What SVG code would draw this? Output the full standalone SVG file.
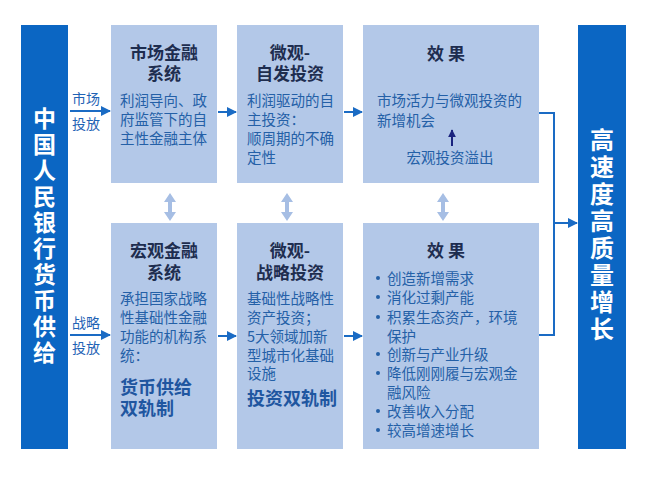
<svg xmlns="http://www.w3.org/2000/svg" width="650" height="485" viewBox="0 0 650 485">
<style>
text{font-family:"Noto Sans CJK SC","Noto Sans",sans-serif}
.bar{fill:#0b66c3}
.box{fill:#b3c8e8}
.vt{fill:#fff;font-weight:700;writing-mode:vertical-rl;text-orientation:upright}
.tt{fill:#1e2d4f;font-size:17px;font-weight:700;text-anchor:middle}
.bd{fill:#2460a7;font-size:14.5px}
.big{fill:#1f56a0;font-size:18px;font-weight:600}
.lbl{fill:#1f63b5;font-size:14px}
.ln{stroke:#1a6bc4;stroke-width:2;fill:none}
.dbl{fill:#a6bee4}
</style>
<defs>
<marker id="ah" viewBox="0 0 10 10" refX="9" refY="5" markerWidth="5" markerHeight="5" orient="auto" markerUnits="strokeWidth">
<path d="M0,0 L10,5 L0,10 z" fill="#1a6bc4"/>
</marker>
<marker id="ahn" viewBox="0 0 10 10" refX="9" refY="5" markerWidth="4" markerHeight="5" orient="auto" markerUnits="strokeWidth">
<path d="M0,0 L10,5 L0,10 z" fill="#1a237e"/>
</marker>
<path id="dbla" d="M0,0 L6,9 L2,9 L2,19 L6,19 L0,28 L-6,19 L-2,19 L-2,9 L-6,9 z"/>
</defs>

<g id="pboc">
<rect class="bar" x="21" y="25" width="47" height="424"/>
<text class="vt" x="44.5" y="106.5" style="font-size:23px;letter-spacing:3px">中国人民银行货币供给</text>
</g>

<g id="growth">
<rect class="bar" x="578" y="25" width="48" height="424"/>
<text class="vt" x="602" y="128" style="font-size:24px;letter-spacing:3px">高速度高质量增长</text>
</g>

<g id="market-finance">
<rect class="box" x="111" y="25" width="106" height="158"/>
<text class="tt" x="164" y="58.5">市场金融</text>
<text class="tt" x="164" y="79.5">系统</text>
<text class="bd"><tspan x="120" y="105.5">利润导向、政</tspan><tspan x="120" y="124.5">府监管下的自</tspan><tspan x="120" y="143.5">主性金融主体</tspan></text>
</g>

<g id="micro-spontaneous">
<rect class="box" x="237" y="25" width="106" height="158"/>
<text class="tt" x="290" y="58.5">微观-</text>
<text class="tt" x="290" y="79.5">自发投资</text>
<text class="bd"><tspan x="247" y="105.5">利润驱动的自</tspan><tspan x="247" y="124.5">主投资：</tspan><tspan x="247" y="143.5">顺周期的不确</tspan><tspan x="247" y="162.5">定性</tspan></text>
</g>

<g id="effect-top">
<rect class="box" x="363" y="25" width="176" height="158"/>
<text class="tt" x="446" y="59.5" xml:space="preserve">效 果</text>
<text class="bd"><tspan x="377" y="105.5">市场活力与微观投资的</tspan><tspan x="377" y="125.5">新增机会</tspan></text>
<line x1="452" y1="146" x2="452" y2="130" stroke="#1a237e" stroke-width="2" marker-end="url(#ahn)"/>
<text class="bd" x="450" y="162.5" text-anchor="middle">宏观投资溢出</text>
</g>

<g id="macro-finance">
<rect class="box" x="111" y="223" width="106" height="226"/>
<text class="tt" x="164" y="256.5">宏观金融</text>
<text class="tt" x="164" y="278.5">系统</text>
<text class="bd"><tspan x="120" y="303.5">承担国家战略</tspan><tspan x="120" y="322.5">性基础性金融</tspan><tspan x="120" y="341.5">功能的机构系</tspan><tspan x="120" y="360.5">统：</tspan></text>
<text class="big"><tspan x="120" y="394">货币供给</tspan><tspan x="120" y="415">双轨制</tspan></text>
</g>

<g id="micro-strategic">
<rect class="box" x="237" y="223" width="106" height="226"/>
<text class="tt" x="290" y="256.5">微观-</text>
<text class="tt" x="290" y="278.5">战略投资</text>
<text class="bd"><tspan x="247" y="303.5">基础性战略性</tspan><tspan x="247" y="322.5">资产投资；</tspan><tspan x="247" y="341.5">5大领域加新</tspan><tspan x="247" y="360.5">型城市化基础</tspan><tspan x="247" y="378.5">设施</tspan></text>
<text class="big" x="247" y="405" style="font-weight:700">投资双轨制</text>
</g>

<g id="effect-bottom">
<rect class="box" x="363" y="223" width="176" height="226"/>
<text class="tt" x="446" y="256.5" xml:space="preserve">效 果</text>
<g fill="#2460a7"><circle cx="378" cy="278" r="2"/><circle cx="378" cy="297" r="2"/><circle cx="378" cy="317" r="2"/><circle cx="378" cy="354" r="2"/><circle cx="378" cy="373" r="2"/><circle cx="378" cy="411" r="2"/><circle cx="378" cy="430" r="2"/></g>
<text class="bd"><tspan x="387" y="283.5">创造新增需求</tspan><tspan x="387" y="302.5">消化过剩产能</tspan><tspan x="387" y="322.5">积累生态资产，环境</tspan><tspan x="387" y="341.5">保护</tspan><tspan x="387" y="359.5">创新与产业升级</tspan><tspan x="387" y="378.5">降低刚刚履与宏观金</tspan><tspan x="387" y="397.5">融风险</tspan><tspan x="387" y="416.5">改善收入分配</tspan><tspan x="387" y="435.5">较高增速增长</tspan></text>
</g>

<g id="connectors">
<line class="ln" x1="70" y1="111" x2="110" y2="111" marker-end="url(#ah)"/>
<line class="ln" x1="70" y1="335" x2="110" y2="335" marker-end="url(#ah)"/>
<line class="ln" x1="218" y1="112" x2="236" y2="112" marker-end="url(#ah)"/>
<line class="ln" x1="344" y1="112" x2="362" y2="112" marker-end="url(#ah)"/>
<line class="ln" x1="218" y1="336" x2="236" y2="336" marker-end="url(#ah)"/>
<line class="ln" x1="344" y1="336" x2="362" y2="336" marker-end="url(#ah)"/>
<path class="ln" d="M539,113 H554 V335 H539"/>
<line class="ln" x1="554" y1="223" x2="577" y2="223" marker-end="url(#ah)"/>
<use href="#dbla" class="dbl" x="170" y="193"/>
<use href="#dbla" class="dbl" x="287" y="193"/>
<use href="#dbla" class="dbl" x="443" y="193"/>
<text class="lbl" x="72" y="104">市场</text>
<text class="lbl" x="72" y="129">投放</text>
<text class="lbl" x="72" y="328">战略</text>
<text class="lbl" x="72" y="353">投放</text>
</g>
</svg>
